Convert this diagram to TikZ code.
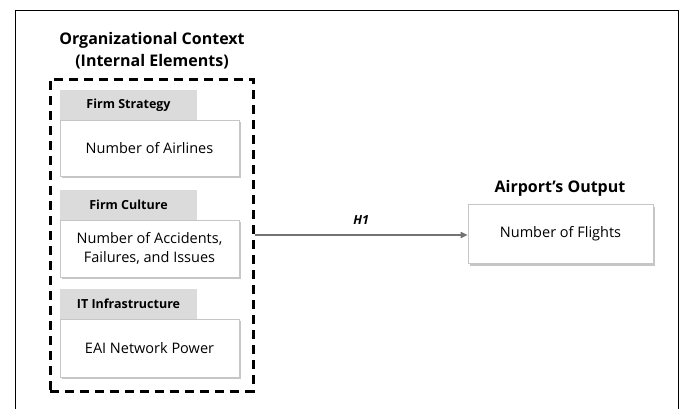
\documentclass[tikz,border=0pt]{standalone}
\usepackage{fontspec}
\setmainfont{Open Sans}
\usetikzlibrary{shadows,arrows.meta}
\tikzset{
  hdr/.style={fill=gray!28, draw=none, minimum width=137pt, minimum height=30pt, inner sep=0pt, font=\bfseries\fontsize{12.5}{14}\selectfont},
  itembox/.style={fill=white, draw=gray!45, line width=0.6pt, minimum width=179pt, inner sep=0pt, align=center,
     font=\fontsize{14.5}{19}\selectfont,
     drop shadow={shadow xshift=2pt, shadow yshift=-2pt, opacity=0.45, fill=gray}},
  ttl/.style={font=\bfseries\fontsize{16}{22}\selectfont, align=center, inner sep=0pt},
  dashbox/.style={draw=black, line width=3pt, dash pattern=on 9pt off 6pt, minimum width=203pt, minimum height=312pt, inner sep=0pt},
  conn/.style={draw=gray!90!black, line width=1.6pt, -{Triangle[length=7pt,width=6pt]}}
}
\begin{document}
\begin{tikzpicture}[x=1pt,y=-1pt]
\useasboundingbox (0,0) rectangle (686,408);
\draw[line width=1pt] (15,420) -- (15,10) -- (678,10) -- (678,420);
\node[ttl] (t1) at (152,51) {Organizational Context\\(Internal Elements)};
\node[dashbox] (dash) at (151.5,235) {};
\node[hdr] (h1) at (128.5,105) {Firm Strategy};
\node[itembox, minimum height=56pt] (b1) at (149.5,148) {Number of Airlines};
\node[hdr] (h2) at (128.5,205) {Firm Culture};
\node[itembox, minimum height=57pt] (b2) at (149.5,248.5) {Number of Accidents,\\Failures, and Issues};
\node[hdr] (h3) at (128.5,304) {IT Infrastructure};
\node[itembox, minimum height=58pt] (b3) at (149.5,348) {EAI Network Power};
\node[ttl] (t2) at (560,188) {Airport’s Output};
\node[itembox, minimum width=185pt, minimum height=59pt] (out) at (560.5,234) {Number of Flights};
\draw[conn] (dash.east) -- (out.west |- dash.east) node[midway, above=6pt, font=\bfseries\itshape\fontsize{12.5}{14}\selectfont] {H1};
\end{tikzpicture}
\end{document}
